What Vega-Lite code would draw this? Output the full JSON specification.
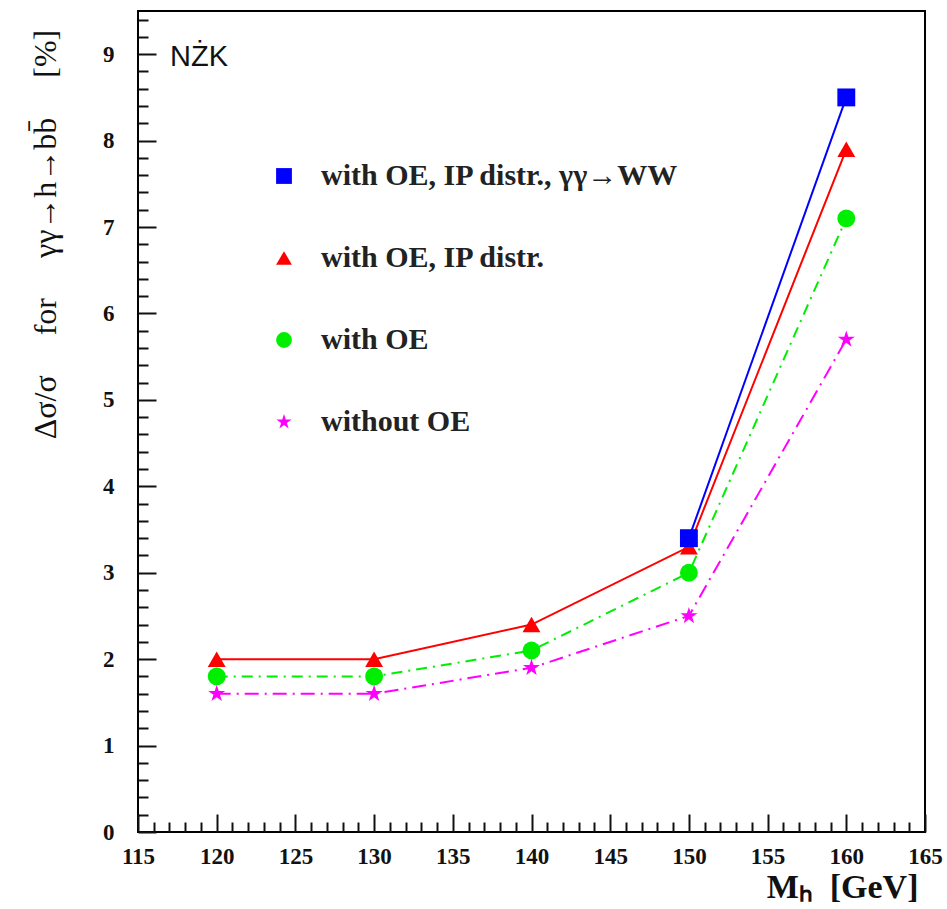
{
  "$schema": "https://vega.github.io/schema/vega-lite/v6.json",
  "width": 787,
  "height": 821,
  "autosize": {"type": "none"},
  "padding": {"left": 138, "top": 11, "right": 22, "bottom": 77},
  "background": "white",
  "title": {
    "text": "NŻK",
    "anchor": "start",
    "frame": "group",
    "orient": "top",
    "offset": 0,
    "dx": 32,
    "dy": 86,
    "baseline": "alphabetic",
    "font": "Liberation Sans",
    "fontSize": 29,
    "fontWeight": "normal",
    "color": "#111"
  },
  "config": {
    "view": {"stroke": "black", "strokeWidth": 2},
    "axis": {
      "domain": false,
      "grid": false,
      "labelFont": "Liberation Serif",
      "labelFontWeight": "bold",
      "labelFontSize": 23,
      "labelColor": "#111",
      "labelOverlap": false,
      "tickColor": "#111",
      "tickWidth": 2,
      "titleFont": "Liberation Serif",
      "titleColor": "#111"
    },
    "legend": {
      "orient": "none",
      "legendX": 131,
      "legendY": 150,
      "symbolSize": 250,
      "symbolOpacity": 1,
      "symbolStrokeWidth": 0,
      "rowPadding": 52,
      "labelOffset": 22,
      "labelFont": "Liberation Serif",
      "labelFontWeight": "bold",
      "labelFontSize": 30,
      "labelColor": "#222",
      "labelLimit": 0
    }
  },
  "data": {
    "values": [
      {"series": "with OE, IP distr.", "mh": 120, "val": 2.0},
      {"series": "with OE, IP distr.", "mh": 130, "val": 2.0},
      {"series": "with OE, IP distr.", "mh": 140, "val": 2.4},
      {"series": "with OE, IP distr.", "mh": 150, "val": 3.3},
      {"series": "with OE, IP distr.", "mh": 160, "val": 7.9},
      {"series": "with OE", "mh": 120, "val": 1.8},
      {"series": "with OE", "mh": 130, "val": 1.8},
      {"series": "with OE", "mh": 140, "val": 2.1},
      {"series": "with OE", "mh": 150, "val": 3.0},
      {"series": "with OE", "mh": 160, "val": 7.1},
      {"series": "without OE", "mh": 120, "val": 1.6},
      {"series": "without OE", "mh": 130, "val": 1.6},
      {"series": "without OE", "mh": 140, "val": 1.9},
      {"series": "without OE", "mh": 150, "val": 2.5},
      {"series": "without OE", "mh": 160, "val": 5.7},
      {"series": "with OE, IP distr., γγ→WW", "mh": 150, "val": 3.4},
      {"series": "with OE, IP distr., γγ→WW", "mh": 160, "val": 8.5}
    ]
  },
  "encoding": {
    "x": {
      "field": "mh",
      "type": "quantitative",
      "scale": {"domain": [115, 165], "nice": false, "zero": false},
      "axis": {
        "values": [115,116,117,118,119,120,121,122,123,124,125,126,127,128,129,130,131,132,133,134,135,136,137,138,139,140,141,142,143,144,145,146,147,148,149,150,151,152,153,154,155,156,157,158,159,160,161,162,163,164,165],
        "labelExpr": "datum.value % 5 === 0 ? format(datum.value, 'd') : ''",
        "tickSize": {"condition": {"test": "datum.value % 5 === 0", "value": -18}, "value": -10},
        "labelPadding": 31,
        "labelFlush": false,
        "title": "Mₕ\u00a0\u00a0[GeV]",
        "titleFontSize": 34,
        "titleFontWeight": "bold",
        "titleAnchor": "end",
        "titleAlign": "right",
        "titleBaseline": "alphabetic",
        "titleX": 780,
        "titleY": 65
      }
    },
    "y": {
      "field": "val",
      "type": "quantitative",
      "scale": {"domain": [0, 9.5], "nice": false},
      "axis": {
        "values": [0,0.2,0.4,0.6,0.8,1,1.2,1.4,1.6,1.8,2,2.2,2.4,2.6,2.8,3,3.2,3.4,3.6,3.8,4,4.2,4.4,4.6,4.8,5,5.2,5.4,5.6,5.8,6,6.2,6.4,6.6,6.8,7,7.2,7.4,7.6,7.8,8,8.2,8.4,8.6,8.8,9,9.2,9.4],
        "labelExpr": "abs(datum.value - round(datum.value)) < 0.001 ? format(round(datum.value), 'd') : ''",
        "tickSize": {"condition": {"test": "abs(datum.value - round(datum.value)) < 0.001", "value": -18}, "value": -10},
        "labelPadding": 42,
        "labelFlush": false,
        "title": "Δσ/σ\u00a0\u00a0\u00a0\u00a0 for \u00a0\u00a0\u00a0\u00a0γγ→h→bb̄\u00a0\u00a0\u00a0\u00a0 [%]",
        "titleFontSize": 32,
        "titleFontWeight": "normal",
        "titleAngle": -90,
        "titleAlign": "center",
        "titleBaseline": "middle",
        "titleX": -93,
        "titleY": 223
      }
    },
    "color": {
      "field": "series",
      "type": "nominal",
      "title": null,
      "scale": {
        "domain": ["with OE, IP distr., γγ→WW", "with OE, IP distr.", "with OE", "without OE"],
        "range": ["#0000ff", "#ff0000", "#00ee00", "#ff00ff"]
      }
    }
  },
  "layer": [
    {
      "transform": [{"filter": "datum.series === 'with OE, IP distr., γγ→WW' || datum.series === 'with OE, IP distr.'"}],
      "mark": {"type": "line", "strokeWidth": 2}
    },
    {
      "transform": [{"filter": "datum.series === 'with OE'"}],
      "mark": {"type": "line", "strokeWidth": 2, "strokeDash": [11, 6, 2, 6]}
    },
    {
      "transform": [{"filter": "datum.series === 'without OE'"}],
      "mark": {"type": "line", "strokeWidth": 2, "strokeDash": [14, 6, 2, 6]}
    },
    {
      "mark": {"type": "point", "filled": true, "opacity": 1, "size": 320},
      "encoding": {
        "shape": {
          "field": "series",
          "type": "nominal",
          "title": null,
          "scale": {
            "domain": ["with OE, IP distr., γγ→WW", "with OE, IP distr.", "with OE", "without OE"],
            "range": ["square", "triangle-up", "circle", "M0,-1L0.2245,-0.309L0.9511,-0.309L0.3633,0.118L0.5878,0.809L0,0.382L-0.5878,0.809L-0.3633,0.118L-0.9511,-0.309L-0.2245,-0.309Z"]
          }
        }
      }
    }
  ]
}
